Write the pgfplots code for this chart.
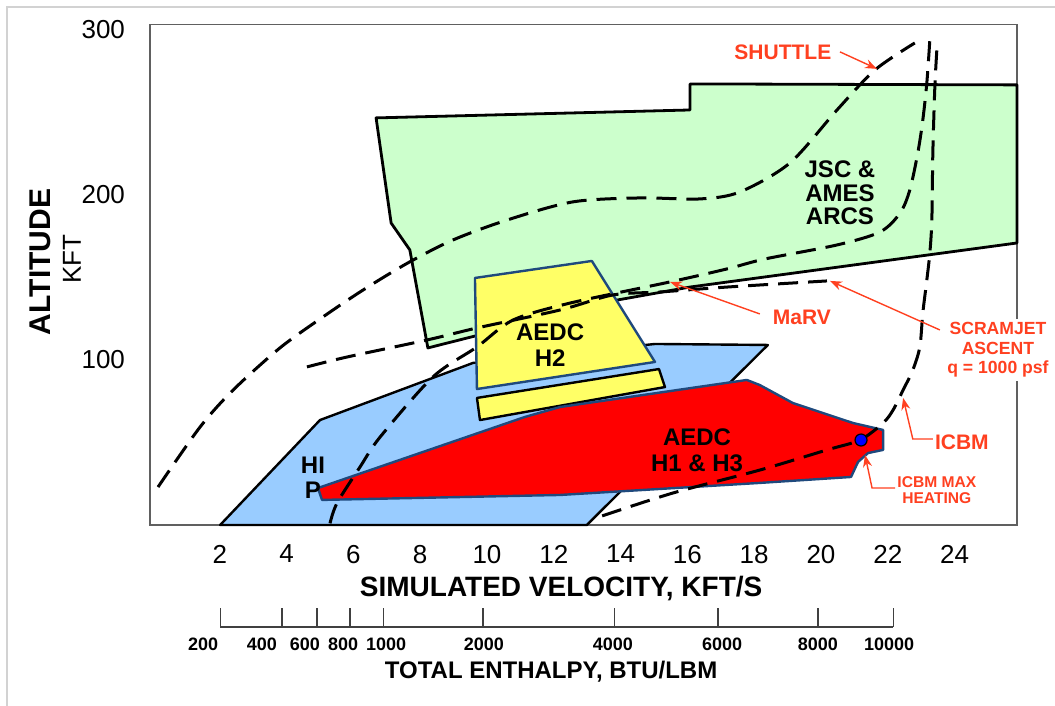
\documentclass[border=0pt]{standalone}
\usepackage{fontspec}
\setmainfont{Liberation Sans}
\usepackage{pgfplots}
\pgfplotsset{compat=1.18}
\usetikzlibrary{arrows.meta}
\definecolor{ann}{RGB}{255,64,32}
\definecolor{gfill}{RGB}{204,255,204}
\definecolor{yfill}{RGB}{255,255,102}
\definecolor{bfill}{RGB}{153,204,255}
\definecolor{edge}{RGB}{31,73,125}
\definecolor{framec}{RGB}{96,96,96}
\tikzset{
  dashcurve/.style={black, line width=1.5pt, dash pattern=on 10pt off 5pt, smooth, tension=0.5},
  arr/.style={ann, line width=0.7pt, -{Stealth[length=6pt,width=4.5pt]}},
}
\begin{document}
\begin{tikzpicture}
\useasboundingbox (-75pt,-90.5pt) rectangle (452.5pt,262.5pt);
\draw[gray!35, line width=0.6pt] (-71.5pt,-90.5pt) -- (-71.5pt,259pt) -- (452.5pt,259pt);
\begin{axis}[
  at={(0,0)}, anchor=south west,
  scale only axis, width=433.5pt, height=250.25pt,
  xmin=-0.09, xmax=25.87, ymin=0, ymax=303.3,
  clip=false,
  axis line style={draw=framec, line width=0.75pt},
  xtick={2,4,...,24}, ytick={100,200,300},
  major tick length=0pt,
  tick label style={font=\fontsize{13}{15}\selectfont},
  /pgf/number format/assume math mode=true,
  xticklabel style={yshift=-6.5pt},
  yticklabel style={xshift=-9pt},
]
% JSC & AMES ARCS region
\addplot[fill=gfill, draw=black, line width=1.4pt, line join=round] coordinates {
 (6.68,246.7) (16.08,251.5) (16.08,267.3) (25.87,266.7) (25.87,170.9)
 (16.08,144.2) (13.92,136.4) (8.23,107.3) (7.69,166.7) (7.13,183.0)} -- cycle;
% HIP region
\addplot[fill=bfill, draw=black, line width=1.2pt, line join=round] coordinates {
 (2.01,0) (5.0,63.6) (9.58,98.2) (15.03,109.7) (18.41,109.1) (12.99,0)} -- cycle;
% AEDC H2
\addplot[fill=yfill, draw=edge, line width=1.2pt, line join=round] coordinates {
 (9.64,149.7) (13.14,160.0) (15.03,98.8) (9.70,82.4)} -- cycle;
\addplot[fill=yfill, draw=black, line width=1.2pt, line join=round] coordinates {
 (9.70,77.0) (15.15,94.5) (15.33,83.6) (9.79,63.6)} -- cycle;
% AEDC H1 & H3
\addplot[fill=red, draw=edge, line width=1.2pt, line join=round] coordinates {
 (4.94,22.4) (5.06,15.2) (12.19,18.2) (18.17,25.5) (20.90,29.1) (21.11,38.2)
 (21.41,43.6) (21.86,45.5) (21.86,57.6) (20.96,61.8) (19.16,73.9) (18.17,84.8)
 (17.78,87.9) (12.19,71.5) (11.14,65.5)} -- cycle;
% Shuttle
\addplot[dashcurve] coordinates {
 (0.15,23.0) (1.41,59.4) (2.40,81.8) (3.80,107.3) (5.09,126.1) (6.29,142.4)
 (7.63,158.8) (8.98,172.7) (10.60,184.8) (12.57,195.8) (14.58,198.2) (16.38,197.6)
 (17.57,201.8) (19.07,219.4) (20.48,251.5) (21.62,275.8) (22.81,292.1)};
% MaRV
\addplot[dashcurve] coordinates {
 (5.30,1.0) (5.51,13.3) (6.20,35.2) (6.80,53.3) (8.38,89.7) (9.70,107.9)
 (10.78,124.2) (12.49,134.5) (15.48,147.3) (17.19,155.2) (18.32,161.2)
 (20.48,169.7) (21.77,177.6) (22.37,189.1) (22.66,203.0) (22.90,225.5)
 (23.05,245.5) (23.17,267.9) (23.26,293.9)};
% Scramjet ascent
\addplot[dashcurve] coordinates {
 (4.61,95.8) (5.81,101.8) (8.20,112.1) (9.70,119.4) (12.19,130.3) (13.77,139.4)
 (15.18,141.2) (17.19,144.2) (20.18,147.9)};
% ICBM
\addplot[dashcurve] coordinates {
 (13.45,5.5) (15.57,19.4) (18.17,33.3) (20.18,45.5) (21.17,51.5)
 (21.86,61.8) (22.16,69.7) (22.46,81.8) (22.75,93.9) (22.96,107.9) (23.05,128.5)
 (23.17,148.5) (23.26,164.8) (23.32,184.8) (23.35,225.5) (23.41,265.5) (23.47,287.9)};
% ICBM max heating point
\addplot[only marks, mark=*, mark size=3pt, mark options={fill=blue, draw=black, line width=0.6pt}] coordinates {(21.2,51.5)};

% region labels
\node[font=\bfseries\fontsize{12}{11.8}\selectfont, align=center] at (axis cs:20.57,201.2) {JSC \&\\AMES\\ARCS};
\node[font=\bfseries\fontsize{12}{13}\selectfont, align=center] at (axis cs:11.89,109.1) {AEDC\\H2};
\node[font=\bfseries\fontsize{12}{13}\selectfont, align=center] at (axis cs:16.29,45.5) {AEDC\\H1 \& H3};
\node[font=\bfseries\fontsize{12}{12.5}\selectfont, align=center] at (axis cs:4.79,28.8) {HI\\P};

% annotations
\node[ann, font=\bfseries\fontsize{10.5}{12}\selectfont] at (axis cs:18.86,286.7) {SHUTTLE};
\draw[arr] (axis cs:20.57,286.7) -- (axis cs:21.68,276.4);
\node[ann, font=\bfseries\fontsize{10.5}{12}\selectfont] at (axis cs:19.43,126.1) {MaRV};
\draw[arr] (axis cs:18.17,127.9) -- (axis cs:15.48,147.3);
\node[ann, fill=white, inner sep=2pt, font=\bfseries\fontsize{8.8}{9.7}\selectfont, align=center] at (axis cs:25.3,106) {SCRAMJET\\ASCENT\\q = 1000 psf};
\draw[arr] (axis cs:23.56,118.2) -- (axis cs:20.27,147.9);
\node[ann, font=\bfseries\fontsize{10.5}{12}\selectfont] at (axis cs:24.22,50.3) {ICBM};
\draw[arr] (axis cs:23.35,52.1) -- (axis cs:22.75,52.1) -- (axis cs:22.46,77.0);
\node[ann, font=\bfseries\fontsize{7.8}{8.3}\selectfont, align=center] at (axis cs:23.47,21.2) {ICBM MAX\\HEATING};
\draw[arr] (axis cs:22.22,22.4) -- (axis cs:21.53,22.4) -- (axis cs:21.32,42.4);

% axis titles
\node[font=\bfseries\fontsize{15}{17}\selectfont, rotate=90] at (axis cs:-3.38,159.4) {ALTITUDE};
\node[font=\fontsize{13}{15}\selectfont, rotate=90] at (axis cs:-2.43,161.2) {KFT};
\node[font=\bfseries\fontsize{14}{16}\selectfont] at (axis cs:12.22,-38.2) {SIMULATED VELOCITY, KFT/S};

% enthalpy scale
\draw[black!75, line width=0.6pt] (axis cs:2.01,-61.8) -- (axis cs:22.16,-61.8);
\pgfplotsinvokeforeach{2.01,3.86,4.91,5.90,6.89,9.88,13.83,16.92,19.91,22.16}{
  \draw[black!75, line width=0.6pt] (axis cs:#1,-61.8) -- (axis cs:#1,-50.3);
}
\node[font=\bfseries\fontsize{9}{11}\selectfont] at (axis cs:1.50,-72.1) {200};
\node[font=\bfseries\fontsize{9}{11}\selectfont] at (axis cs:3.26,-72.1) {400};
\node[font=\bfseries\fontsize{9}{11}\selectfont] at (axis cs:4.55,-72.1) {600};
\node[font=\bfseries\fontsize{9}{11}\selectfont] at (axis cs:5.69,-72.1) {800};
\node[font=\bfseries\fontsize{9}{11}\selectfont] at (axis cs:6.98,-72.1) {1000};
\node[font=\bfseries\fontsize{9}{11}\selectfont] at (axis cs:9.91,-72.1) {2000};
\node[font=\bfseries\fontsize{9}{11}\selectfont] at (axis cs:13.77,-72.1) {4000};
\node[font=\bfseries\fontsize{9}{11}\selectfont] at (axis cs:17.04,-72.1) {6000};
\node[font=\bfseries\fontsize{9}{11}\selectfont] at (axis cs:19.91,-72.1) {8000};
\node[font=\bfseries\fontsize{9}{11}\selectfont] at (axis cs:22.04,-72.1) {10000};
\node[font=\bfseries\fontsize{12}{14}\selectfont] at (axis cs:11.92,-89.1) {TOTAL ENTHALPY, BTU/LBM};
\end{axis}
\end{tikzpicture}
\end{document}
